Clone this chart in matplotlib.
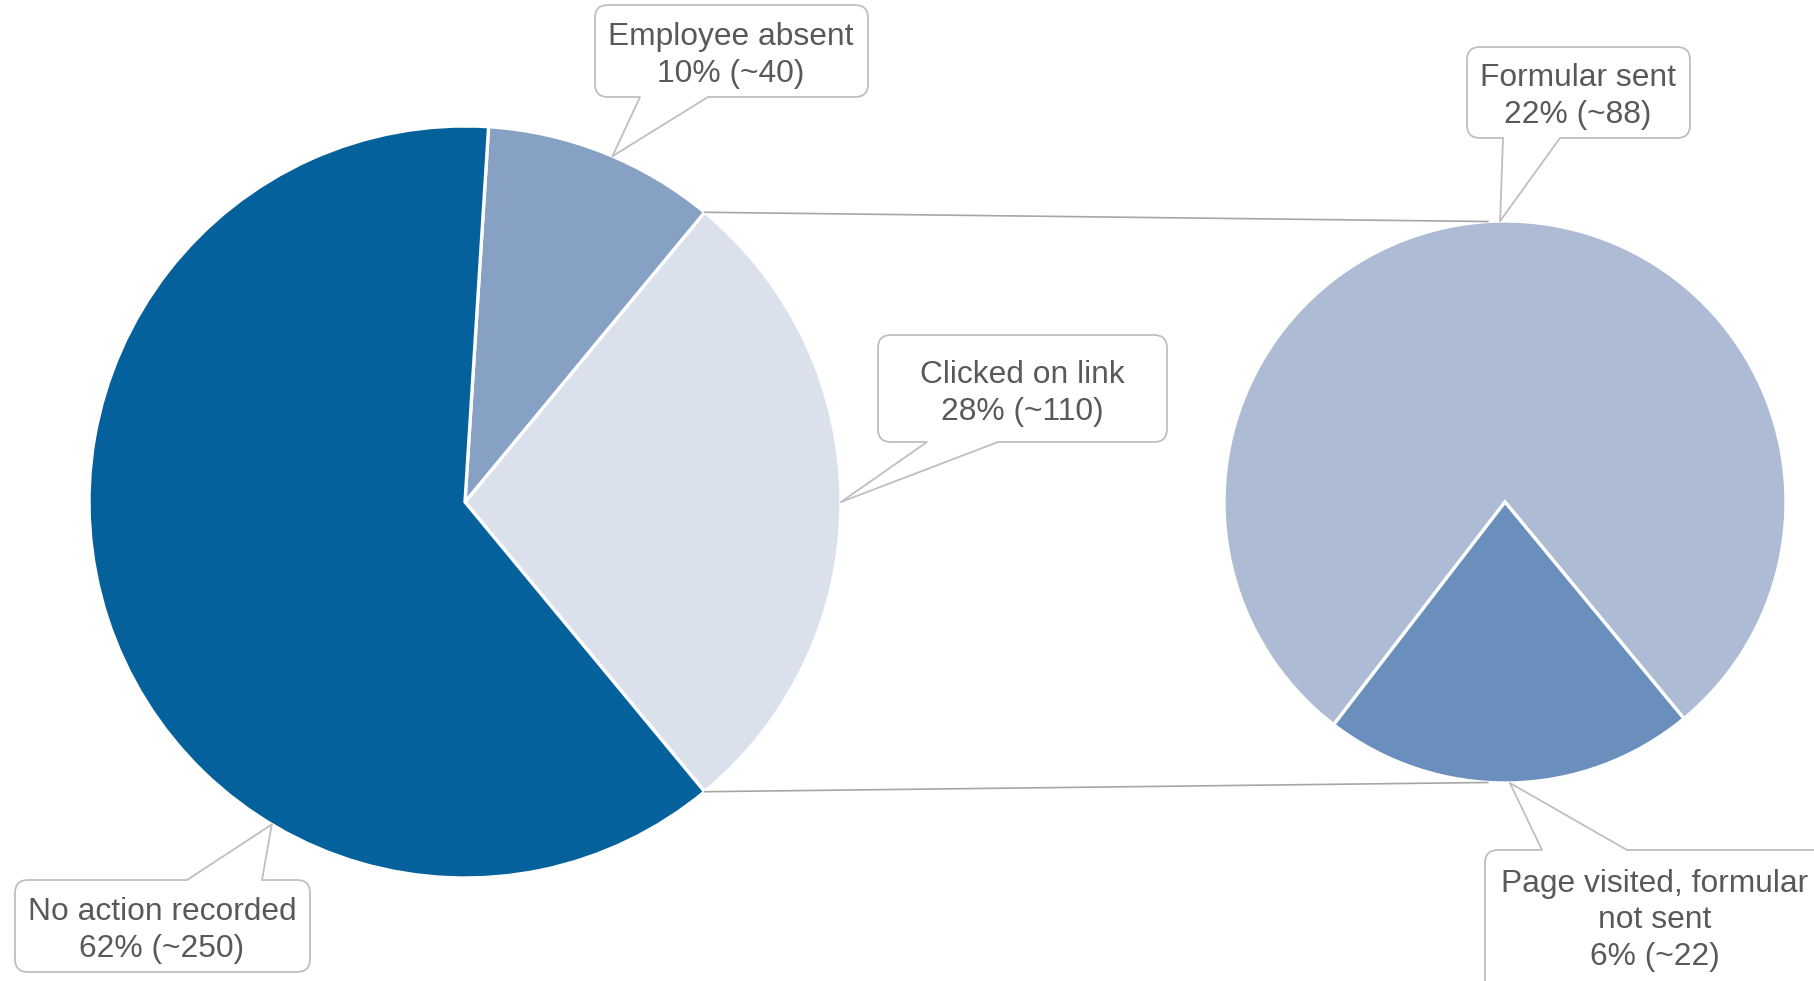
import matplotlib
matplotlib.use("Agg")
import matplotlib.pyplot as plt
from matplotlib.patches import FancyBboxPatch, Polygon, Rectangle
import numpy as np

# ---- data ----
left_labels = ["Clicked on link", "Employee absent", "No action recorded"]
left_pcts = [28, 10, 62]
left_counts = [110, 40, 250]
right_labels = ["Formular sent", "Page visited, formular\nnot sent"]
right_pcts = [22, 6]
right_counts = [88, 22]

W, H = 1814, 981
fig = plt.figure(figsize=(W / 100, H / 100), dpi=100)
ax = fig.add_axes([0, 0, 1, 1])


def Y(y):
    return H - y


LC = (465, Y(502)); LR = 376
RC = (1505, Y(502)); RR = 281

left_colors = ["#DAE0EC", "#87A1C5", "#05619B"]
right_colors = ["#ADBBD5", "#6A8FBC"]
wp = dict(edgecolor="white", linewidth=2.4)

wl, _ = ax.pie(left_pcts, colors=left_colors,
               startangle=-left_pcts[0] / sum(left_pcts) * 180,
               center=LC, radius=LR, wedgeprops=wp)
wr, _ = ax.pie(right_pcts, colors=right_colors,
               startangle=-89 + right_pcts[1] / sum(right_pcts) * 180,
               center=RC, radius=RR, wedgeprops=wp)

ax.set_xlim(0, W)
ax.set_ylim(0, H)
ax.set_aspect("equal")
ax.axis("off")


def pt(c, r, ang):
    a = np.deg2rad(ang)
    return (c[0] + r * np.cos(a), c[1] + r * np.sin(a))


# connection lines
cw = wl[0]
p_top = pt(LC, LR, cw.theta2)
p_bot = pt(LC, LR, cw.theta1)
q_top = pt(RC, RR, 93.5)
q_bot = pt(RC, RR, 266.5)
lc = "#A6A6A6"
ax.plot([p_top[0], q_top[0]], [p_top[1], q_top[1]], color=lc, lw=1.2, zorder=3)
ax.plot([p_bot[0], q_bot[0]], [p_bot[1], q_bot[1]], color=lc, lw=1.2, zorder=3)

EC = "#BFBFBF"
TC = "#595959"
TDY = 3.5


def callout(text, box, base, by, tip, tcenter, ls=1.27):
    x0, y0, x1, y1 = box
    ax.add_patch(FancyBboxPatch((x0, Y(y1)), x1 - x0, y1 - y0,
                                boxstyle="round,pad=0,rounding_size=13",
                                fc="white", ec=EC, lw=1.3, zorder=5))
    b0 = (base[0], Y(by)); b1 = (base[1], Y(by))
    ax.add_patch(Polygon([b0, b1, tip], closed=True, fc="white", ec="none", zorder=6))
    ax.add_patch(Rectangle((b0[0], b0[1] - 2.5), b1[0] - b0[0], 5, fc="white", ec="none", zorder=6))
    ax.plot([b0[0], tip[0]], [b0[1], tip[1]], color=EC, lw=1.3, zorder=7, solid_capstyle="round")
    ax.plot([b1[0], tip[0]], [b1[1], tip[1]], color=EC, lw=1.3, zorder=7, solid_capstyle="round")
    ax.text(tcenter[0], Y(tcenter[1] + TDY), text, ha="center", va="center",
            fontsize=22.9, color=TC, family=["Liberation Sans", "DejaVu Sans"],
            multialignment="center", linespacing=ls, zorder=8)


def lab(name, pct, cnt):
    return f"{name}\n{pct}% (~{cnt})"


def mid(w):
    return (w.theta1 + w.theta2) / 2


# Employee absent
callout(lab(left_labels[1], left_pcts[1], left_counts[1]),
        (595, 5, 868, 97), (640, 708), 97, pt(LC, LR, mid(wl[1]) - 1.5), (731, 52))
# Clicked on link
callout(lab(left_labels[0], left_pcts[0], left_counts[0]),
        (878, 335, 1167, 442), (927, 998), 442, pt(LC, LR, mid(wl[0])), (1022, 390))
# No action recorded
wn = wl[2]
callout(lab(left_labels[2], left_pcts[2], left_counts[2]),
        (15, 880, 310, 972), (187, 262), 880,
        pt(LC, LR, wn.theta1 + 0.684 * (wn.theta2 - wn.theta1)), (162, 927))
# Formular sent
callout(lab(right_labels[0], right_pcts[0], right_counts[0]),
        (1467, 47, 1690, 138), (1503, 1560), 138, pt(RC, RR, mid(wr[0])), (1578, 93))
# Page visited
callout(lab(right_labels[1], right_pcts[1], right_counts[1]),
        (1485, 850, 1830, 995), (1542, 1627), 850, pt(RC, RR, mid(wr[1])), (1655, 917),
        ls=1.3)

fig.savefig("out.png", dpi=100, facecolor="white")
